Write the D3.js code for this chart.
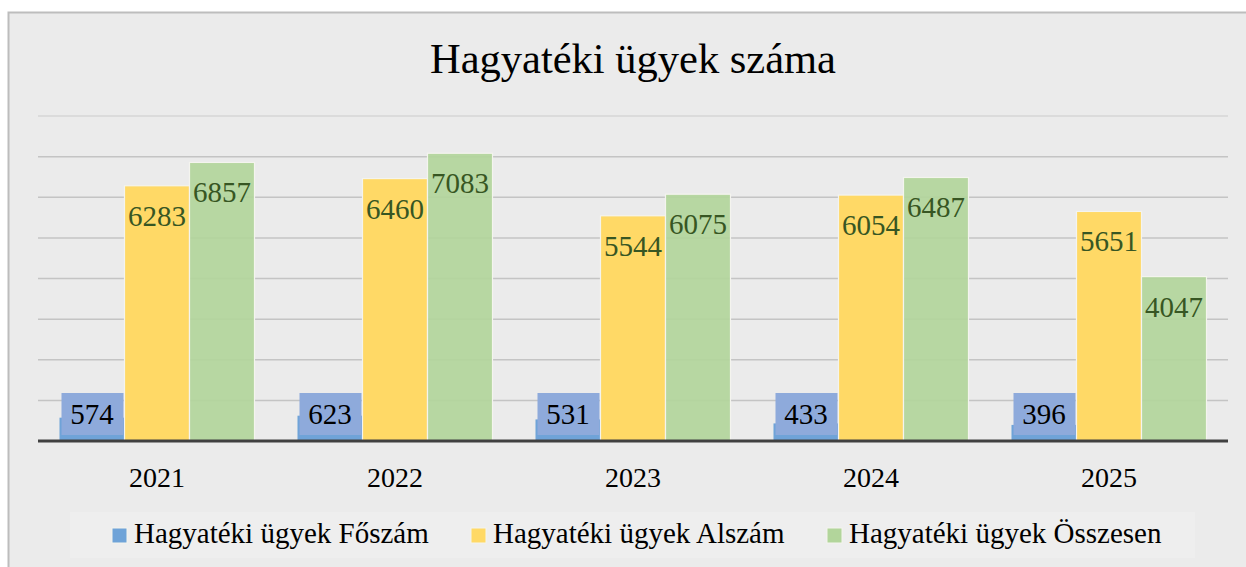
<!DOCTYPE html>
<html>
<head>
<meta charset="utf-8">
<script src="https://cdn.jsdelivr.net/npm/d3@7"></script>
<style>
  body { margin: 0; background: #fff; }
  svg { display: block; font-family: "Liberation Serif", "Times New Roman", serif; }
</style>
</head>
<body>
<svg id="chart" width="1246" height="567"></svg>
<script>
// chart data
const years = ['2021', '2022', '2023', '2024', '2025']
const foszam = [574, 623, 531, 433, 396]
const alszam = [6283, 6460, 5544, 6054, 5651]
const osszesen = [6857, 7083, 6075, 6487, 4047]
const seriesNames = ['Hagyatéki ügyek Főszám', 'Hagyatéki ügyek Alszám', 'Hagyatéki ügyek Összesen']
const yTicks = [1000, 2000, 3000, 4000, 5000, 6000, 7000, 8000]

const colors = ['#6fa3d8', '#ffd966', '#b2d59b']

const svg = d3.select('#chart')

// frame + background
svg.append('rect')
  .attr('x', 8.5).attr('y', 12.5)
  .attr('width', 1246).attr('height', 567)
  .attr('fill', '#ebebeb')
  .attr('stroke', '#bdbdbd')
  .attr('stroke-width', 2)

// legend panel (slightly lighter)
svg.append('rect')
  .attr('x', 70).attr('y', 512)
  .attr('width', 1125).attr('height', 46)
  .attr('fill', '#eeeeee')

svg.append('text')
  .attr('x', 633).attr('y', 73)
  .attr('text-anchor', 'middle')
  .style('font-size', '42.5px')
  .attr('fill', '#000')
  .text('Hagyatéki ügyek száma')

const left = 38
const right = 1228
const baseY = 441

const x = d3.scaleBand().domain(years).range([left, right]).paddingInner(0).paddingOuter(0)
const x1 = d3.scaleBand().domain([0, 1, 2]).range([0, 195])
const y = d3.scaleLinear().domain([0, 8000]).range([baseY, 116])

// gridlines
svg.append('g')
  .selectAll('line')
  .data(yTicks)
  .join('line')
  .attr('x1', left).attr('x2', right)
  .attr('y1', d => y(d)).attr('y2', d => y(d))
  .attr('stroke', (d, i) => i === yTicks.length - 1 ? '#d6d6d6' : '#c4c4c4')
  .attr('stroke-width', 1.5)

const groupOffset = (x.bandwidth() - 195) / 2

const groups = svg.append('g')
  .selectAll('.group')
  .data(years)
  .join('g')
  .attr('class', 'group')
  .attr('transform', d => 'translate(' + (x(d) + groupOffset) + ',0)')

groups.each(function (yr, i) {
  const g = d3.select(this)
  const vals = [foszam[i], alszam[i], osszesen[i]]
  vals.forEach((v, s) => {
    g.append('rect')
      .attr('x', x1(s))
      .attr('y', y(v))
      .attr('width', x1.bandwidth())
      .attr('height', baseY - y(v))
      .attr('fill', colors[s])
      .attr('fill-opacity', s === 2 ? 0.92 : 1)
      .attr('stroke', s === 0 ? 'none' : '#f4f4ee')
      .attr('stroke-width', 1.2)
  })

  // small-value label with box
  g.append('rect')
    .attr('x', x1(0) + 2)
    .attr('y', baseY - 48)
    .attr('width', x1.bandwidth() - 3)
    .attr('height', 42)
    .attr('fill', '#8eaadb')
  g.append('text')
    .attr('x', x1(0) + x1.bandwidth() / 2)
    .attr('y', baseY - 17)
    .attr('text-anchor', 'middle')
    .style('font-size', '29px')
    .attr('fill', '#000')
    .text(foszam[i])

  ;[alszam[i], osszesen[i]].forEach((v, k) => {
    g.append('text')
      .attr('x', x1(k + 1) + x1.bandwidth() / 2)
      .attr('y', y(v) + 40)
      .attr('text-anchor', 'middle')
      .style('font-size', '29px')
      .attr('fill', '#375623')
      .text(v)
  })
})

// baseline axis
svg.append('line')
  .attr('x1', left).attr('x2', right)
  .attr('y1', baseY).attr('y2', baseY)
  .attr('stroke', '#404040')
  .attr('stroke-width', 3)

// x labels
const xAxis = svg.append('g')
  .attr('transform', 'translate(0,' + baseY + ')')
  .call(d3.axisBottom(x).tickSize(0).tickPadding(0))
xAxis.select('.domain').remove()
xAxis.selectAll('text')
  .attr('y', 46)
  .attr('dy', 0)
  .style('font-size', '28px')
  .style('font-family', '"Liberation Serif", "Times New Roman", serif')
  .attr('fill', '#000')

// legend
const legendX = [112, 471, 827]
const legend = svg.append('g')
  .selectAll('g')
  .data(seriesNames)
  .join('g')
  .attr('transform', (d, i) => 'translate(' + legendX[i] + ',528)')
legend.append('rect')
  .attr('width', 15).attr('height', 15)
  .attr('fill', (d, i) => colors[i])
  .attr('stroke', '#f4f4ee')
  .attr('stroke-width', 1)
legend.append('text')
  .attr('x', 22).attr('y', 15)
  .style('font-size', '29px')
  .attr('fill', '#000')
  .text(d => d)
</script>
</body>
</html>
